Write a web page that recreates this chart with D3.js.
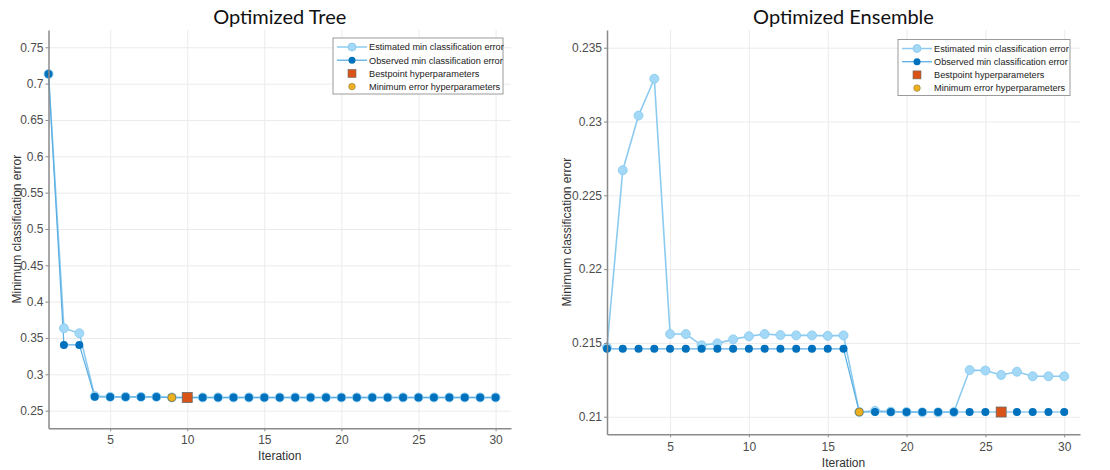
<!DOCTYPE html>
<html>
<head>
<meta charset="utf-8">
<script src="https://cdn.jsdelivr.net/npm/d3@7"></script>
<style>
  body { margin: 0; background: #fff; }
  svg { display: block; }
  .tick text { font-family: "Liberation Sans", Arial, sans-serif; font-size: 12px; fill: #4d4d4d; }
  .axis path, .axis line { stroke: #8a8a8a; }
  .grid line { stroke: #ebebeb; stroke-width: 1; }
  .grid path { display: none; }
</style>
</head>
<body>
<script>
// ---- data ----
var iterations = d3.range(1, 31);

var treeEstimated = [0.7132, 0.3634, 0.3565, 0.2700, 0.2690, 0.2690, 0.2690, 0.2690, 0.2682, 0.2682,
                     0.2682, 0.2682, 0.2682, 0.2682, 0.2682, 0.2682, 0.2682, 0.2682, 0.2682, 0.2682,
                     0.2682, 0.2682, 0.2682, 0.2682, 0.2682, 0.2682, 0.2682, 0.2682, 0.2682, 0.2682];
var treeObserved  = [0.7132, 0.3404, 0.3404, 0.2690, 0.2688, 0.2688, 0.2688, 0.2688, 0.2680, 0.2680,
                     0.2680, 0.2680, 0.2680, 0.2680, 0.2680, 0.2680, 0.2680, 0.2680, 0.2680, 0.2680,
                     0.2680, 0.2680, 0.2680, 0.2680, 0.2680, 0.2680, 0.2680, 0.2680, 0.2680, 0.2680];
var treeBest = {iter: 10, value: 0.2680};
var treeMinErr = {iter: 9, value: 0.2680};
var treeYTicks = [0.25, 0.3, 0.35, 0.4, 0.45, 0.5, 0.55, 0.6, 0.65, 0.7, 0.75];

var ensEstimated = [0.2147, 0.2267, 0.2304, 0.2329, 0.2156, 0.2156, 0.21484, 0.21497, 0.21524, 0.21545,
                    0.2156, 0.21553, 0.21551, 0.21551, 0.21548, 0.21551, 0.21032, 0.21040, 0.21035, 0.21032,
                    0.21030, 0.21030, 0.21032, 0.21316, 0.21313, 0.21283, 0.21305, 0.21274, 0.21274, 0.21274];
var ensObserved  = [0.2146, 0.2146, 0.2146, 0.2146, 0.2146, 0.2146, 0.2146, 0.2146, 0.2146, 0.2146,
                    0.2146, 0.2146, 0.2146, 0.2146, 0.2146, 0.2146, 0.21032, 0.21032, 0.21032, 0.21032,
                    0.21032, 0.21032, 0.21032, 0.21032, 0.21032, 0.21032, 0.21032, 0.21032, 0.21032, 0.21032];
var ensBest = {iter: 26, value: 0.21032};
var ensMinErr = {iter: 17, value: 0.21032};
var ensYTicks = [0.21, 0.215, 0.22, 0.225, 0.23, 0.235];

var xTicks = [5, 10, 15, 20, 25, 30];
var legendLabels = ["Estimated min classification error", "Observed min classification error",
                    "Bestpoint hyperparameters", "Minimum error hyperparameters"];

var cEst = "#a3d9f7", cEstLine = "#8ccbef", cObs = "#0072bd", cObsLine = "#5aaee3";
var cBest = "#d95319", cMin = "#edb120";

var svg = d3.select("body").append("svg").attr("width", 1110).attr("height", 470);

function drawPanel(opt) {
  var x = d3.scaleLinear().domain([1, 31]).range([opt.left, opt.right]);
  var y = d3.scaleLinear().domain(opt.yDomain).range([opt.bottom, opt.top]);
  var g = svg.append("g");

  // grid
  g.append("g").attr("class", "grid")
    .attr("transform", "translate(0," + opt.bottom + ")")
    .call(d3.axisBottom(x).tickValues(xTicks).tickSize(-(opt.bottom - opt.top)).tickFormat(""));
  g.append("g").attr("class", "grid")
    .attr("transform", "translate(" + opt.left + ",0)")
    .call(d3.axisLeft(y).tickValues(opt.yTicks).tickSize(-(opt.right - opt.left)).tickFormat(""));

  // lines
  var line = d3.line().x(function(d, i){ return x(iterations[i]); }).y(function(d){ return y(d); });
  g.append("path").attr("d", line(opt.est)).attr("fill", "none")
    .attr("stroke", cEstLine).attr("stroke-width", 1.6);
  g.append("path").attr("d", line(opt.obs)).attr("fill", "none")
    .attr("stroke", cObsLine).attr("stroke-width", 1.2);

  g.selectAll("circle.est").data(opt.est).enter().append("circle")
    .attr("class", "est")
    .attr("cx", function(d, i){ return x(iterations[i]); })
    .attr("cy", function(d){ return y(d); })
    .attr("r", 4.5).attr("fill", cEst).attr("stroke", "#86c8ee").attr("stroke-width", 0.8);
  g.selectAll("circle.obs").data(opt.obs).enter().append("circle")
    .attr("class", "obs")
    .attr("cx", function(d, i){ return x(iterations[i]); })
    .attr("cy", function(d){ return y(d); })
    .attr("r", 4).attr("fill", cObs);

  // special markers
  g.append("circle").attr("cx", x(opt.minErr.iter)).attr("cy", y(opt.minErr.value))
    .attr("r", 4).attr("fill", cMin).attr("stroke", "#7a6a3a").attr("stroke-width", 0.6);
  g.append("rect").attr("x", x(opt.best.iter) - 5).attr("y", y(opt.best.value) - 5)
    .attr("width", 10).attr("height", 10).attr("fill", cBest)
    .attr("stroke", "#6b6b6b").attr("stroke-width", 0.8);

  // axes
  var ax = g.append("g").attr("class", "axis")
    .attr("transform", "translate(0," + opt.bottom + ")")
    .call(d3.axisBottom(x).tickValues(xTicks).tickSize(3).tickSizeOuter(0).tickPadding(opt.xPad));
  ax.select(".domain").attr("stroke-width", 1.5);
  var ay = g.append("g").attr("class", "axis")
    .attr("transform", "translate(" + opt.left + ",0)")
    .call(d3.axisLeft(y).tickValues(opt.yTicks).tickSize(3).tickSizeOuter(0).tickPadding(2)
      .tickFormat(function(d){ return String(+d.toFixed(3)); }));
  ay.select(".domain").attr("stroke-width", 1.5);

  // titles
  g.append("text").attr("x", (opt.left + opt.right) / 2).attr("y", 24)
    .attr("text-anchor", "middle").attr("font-family", "Lato, 'Open Sans', sans-serif")
    .attr("font-size", 20).attr("fill", "#111").text(opt.title);
  g.append("text").attr("x", (opt.left + opt.right) / 2).attr("y", opt.xLabelY)
    .attr("text-anchor", "middle").attr("font-family", "'Liberation Sans', Arial, sans-serif")
    .attr("font-size", 12).attr("fill", "#333").text("Iteration");
  g.append("text")
    .attr("transform", "translate(" + opt.yLabelX + "," + ((opt.top + opt.bottom) / 2) + ") rotate(-90)")
    .attr("text-anchor", "middle").attr("font-family", "'Liberation Sans', Arial, sans-serif")
    .attr("font-size", 12).attr("fill", "#333").text("Minimum classification error");

  // legend
  var lg = g.append("g").attr("transform", "translate(" + opt.legX + "," + opt.legY + ")");
  lg.append("rect").attr("width", opt.legW).attr("height", 56)
    .attr("fill", "#fff").attr("stroke", "#9a9a9a").attr("stroke-width", 1);
  legendLabels.forEach(function(lab, i) {
    var ry = 9 + i * 13.2;
    var row = lg.append("g").attr("transform", "translate(0," + ry + ")");
    if (i === 0) {
      row.append("line").attr("x1", 4).attr("x2", 34).attr("stroke", cEstLine).attr("stroke-width", 1.5);
      row.append("circle").attr("cx", 19).attr("r", 4).attr("fill", cEst).attr("stroke", "#86c8ee").attr("stroke-width", 0.8);
    } else if (i === 1) {
      row.append("line").attr("x1", 4).attr("x2", 34).attr("stroke", cObsLine).attr("stroke-width", 1.3);
      row.append("circle").attr("cx", 19).attr("r", 3.5).attr("fill", cObs);
    } else if (i === 2) {
      row.append("rect").attr("x", 15).attr("y", -4).attr("width", 8).attr("height", 8)
        .attr("fill", cBest).attr("stroke", "#6b6b6b").attr("stroke-width", 0.6);
    } else {
      row.append("circle").attr("cx", 19).attr("r", 3.3).attr("fill", cMin)
        .attr("stroke", "#7a6a3a").attr("stroke-width", 0.5);
    }
    row.append("text").attr("x", 36).attr("y", 3.3)
      .attr("font-family", "'Liberation Sans', Arial, sans-serif").attr("font-size", 9.2)
      .attr("fill", "#222").text(lab);
  });
}

drawPanel({
  title: "Optimized Tree", left: 48.5, right: 511, top: 30, bottom: 428.3,
  yDomain: [0.2257, 0.7738], yTicks: treeYTicks, est: treeEstimated, obs: treeObserved,
  best: treeBest, minErr: treeMinErr, xPad: 4, xLabelY: 460, yLabelX: 21,
  legX: 333, legY: 38, legW: 170
});

drawPanel({
  title: "Optimized Ensemble", left: 607, right: 1080, top: 30, bottom: 434.3,
  yDomain: [0.20881, 0.2362], yTicks: ensYTicks, est: ensEstimated, obs: ensObserved,
  best: ensBest, minErr: ensMinErr, xPad: 5, xLabelY: 467, yLabelX: 571,
  legX: 898, legY: 39.5, legW: 172
});
</script>
</body>
</html>
